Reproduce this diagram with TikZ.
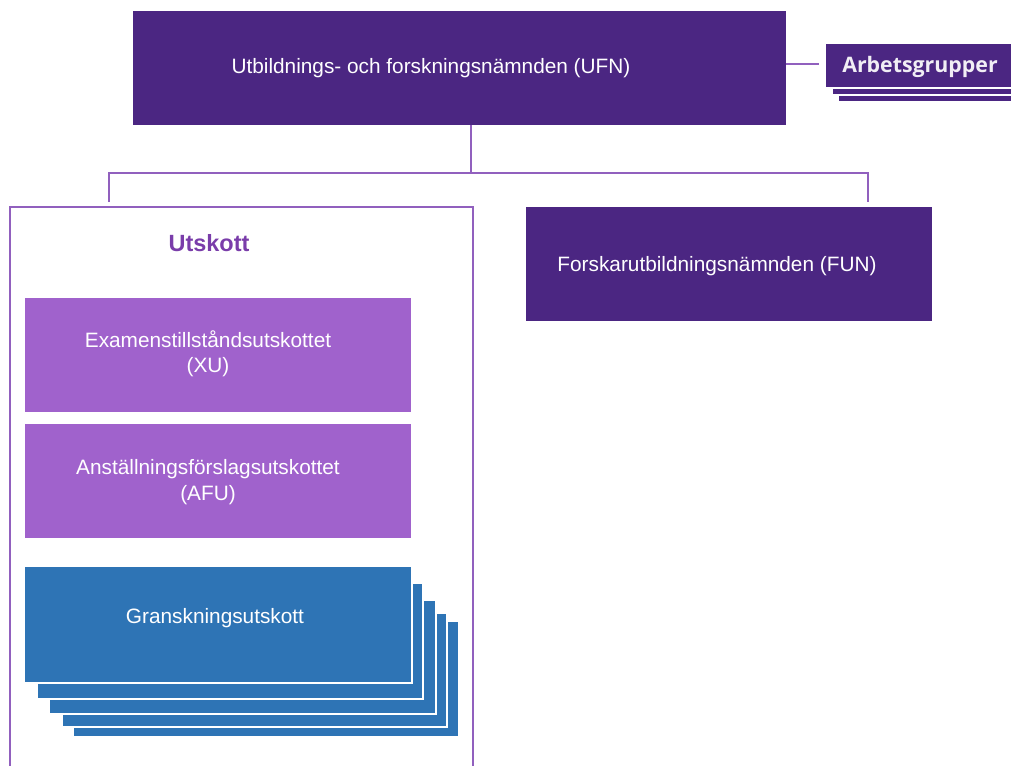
\documentclass[tikz,border=0pt]{standalone}
\usepackage{fontspec}
\setmainfont{Liberation Sans}
\newfontfamily\agfont{Open Sans}
\usetikzlibrary{fit}
\definecolor{darkpurple}{HTML}{4B2682}
\definecolor{midpurple}{HTML}{A062CC}
\definecolor{linepurple}{HTML}{9160BE}
\definecolor{titlepurple}{HTML}{7A3DAA}
\definecolor{blue}{HTML}{2E74B5}
\begin{document}
\begin{tikzpicture}[x=0.75pt,y=-0.75pt,
  darkbox/.style={rectangle,inner sep=0pt,fill=darkpurple},
  midbox/.style={rectangle,inner sep=0pt,fill=midpurple},
  bluebox/.style={rectangle,inner sep=0pt,fill=blue,draw=white,line width=0.9pt},
  agbox/.style={rectangle,inner sep=0pt,fill=darkpurple,draw=white,line width=0.9pt},
  wtext/.style={text=white,font=\fontsize{15.6pt}{19pt}\selectfont,inner sep=0pt},
  conn/.style={draw=linepurple,line width=1.6pt},
  container/.style={rectangle,inner sep=0pt,draw=linepurple,line width=1.6pt}]
\useasboundingbox (0,0) rectangle (1011,765);
\clip (0,0) rectangle (1011,765);
% top box
\node[darkbox,fit={(133,11)(786,125)}] (ufn) {};
\node[wtext] (ufntext) at (431,68) {Utbildnings- och forskningsnämnden (UFN)};
% Arbetsgrupper stack
\node[agbox,fit={(838,56)(1030,102)}] (ag3) {};
\node[agbox,fit={(832,50)(1030,95)}] (ag2) {};
\node[agbox,fit={(825,43)(1030,88)}] (ag1) {};
\node[text=white!92!darkpurple,inner sep=0pt,font=\agfont\bfseries\fontsize{16pt}{19pt}\selectfont] (agtext) at (920,67) {Arbetsgrupper};
\coordinate (agc) at (819,64);
\draw[draw=linepurple,line width=1pt] (ufn.east |- agc) -- (agc);
% tree connectors
\coordinate (j) at (471,173);
\coordinate (jl) at (109,173);
\coordinate (jr) at (868,173);
\coordinate (jlb) at (109,202);
\coordinate (jrb) at (868,202);
\draw[conn] (ufn.south -| j) -- (j);
\draw[conn] (jlb) -- (jl) -- (jr) -- (jrb);
% FUN box
\node[darkbox,fit={(526,207)(932,321)}] (fun) {};
\node[wtext] (funtext) at (717,266) {Forskarutbildningsnämnden (FUN)};
% Utskott container
\node[container,fit={(10,207)(473,800)}] (utskott) {};
\node[text=titlepurple,inner sep=0pt,font=\bfseries\fontsize{17.6pt}{20pt}\selectfont] (utskotttitle) at (209,243) {Utskott};
% XU, AFU
\node[midbox,fit={(25,298)(411,412)}] (xu) {};
\node[wtext,align=center] (xutext) at (208,354) {Examenstillståndsutskottet\\(XU)};
\node[midbox,fit={(25,424)(411,538)}] (afu) {};
\node[wtext,align=center] (afutext) at (208,482) {Anställningsförslagsutskottet\\(AFU)};
% Granskningsutskott stack
\node[bluebox,fit={(73,621)(459,737)}] (g5) {};
\node[bluebox,fit={(62,613)(447,727)}] (g4) {};
\node[bluebox,fit={(49,600)(436,714)}] (g3) {};
\node[bluebox,fit={(37,583)(423,699)}] (g2) {};
\node[bluebox,fit={(24,566)(412,683)}] (g1) {};
\node[wtext] (gtext) at (215,618) {Granskningsutskott};
\end{tikzpicture}
\end{document}
